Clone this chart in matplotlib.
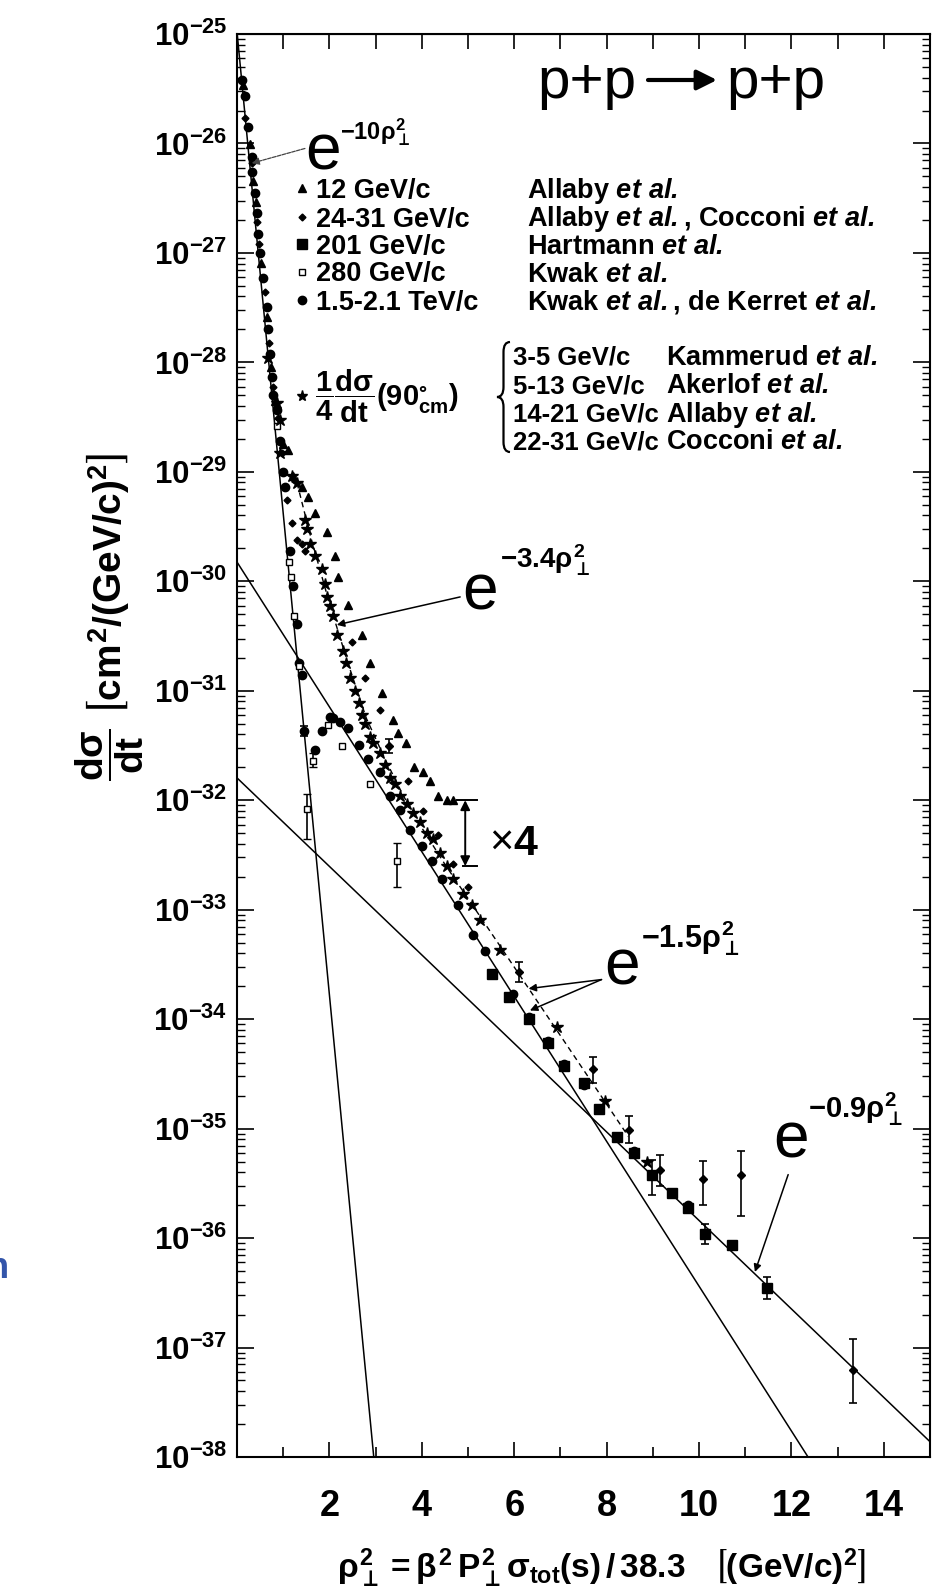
import numpy as np
import matplotlib
matplotlib.use("Agg")
import matplotlib.pyplot as plt
from matplotlib.path import Path
from matplotlib.patches import PathPatch, FancyArrowPatch
from matplotlib.ticker import FixedLocator, LogLocator, NullFormatter

SANS = ['Liberation Sans', 'DejaVu Sans']
plt.rcParams['font.family'] = SANS
plt.rcParams['font.weight'] = 'bold'
plt.rcParams['mathtext.fontset'] = 'custom'
plt.rcParams['mathtext.rm'] = 'Liberation Sans:bold'
plt.rcParams['mathtext.it'] = 'Liberation Sans:bold'
plt.rcParams['mathtext.bf'] = 'Liberation Sans:bold'
plt.rcParams['mathtext.sf'] = 'Liberation Sans:bold:italic'
plt.rcParams['mathtext.fallback'] = 'stixsans'

# ---- data (x = rho_perp^2, y = dsigma/dt) ----
tev_x = [0.10, 0.17, 0.24, 0.32, 0.32, 0.39, 0.43, 0.46, 0.50, 0.57, 0.64, 0.68,
         0.71, 0.75, 0.79, 0.86, 0.93, 1.00, 1.04, 1.15, 1.22, 1.29, 1.34, 1.40,
         1.69, 1.83, 2.01, 2.08, 2.23, 2.41, 2.63, 2.84, 3.10, 3.31, 3.53, 3.74,
         4.00, 4.21, 4.43, 4.79, 5.11, 5.37, 5.98, 6.31, 6.73, 7.08, 7.50, 8.59, 9.77]
tev_y = [3.8e-26, 2.7e-26, 1.4e-26, 7.6e-27, 5.5e-27, 3.5e-27, 2.3e-27, 1.5e-27,
         1.0e-27, 5.9e-28, 3.2e-28, 2.0e-28, 1.2e-28, 7.4e-29, 5.0e-29, 3.7e-29,
         1.9e-29, 1.0e-29, 7.3e-30, 1.9e-30, 9.0e-31, 4.1e-31, 1.8e-31, 1.4e-31,
         2.9e-32, 4.3e-32, 5.8e-32, 5.6e-32, 5.2e-32, 4.6e-32, 3.2e-32, 2.4e-32,
         1.8e-32, 1.1e-32, 8.1e-33, 5.4e-33, 3.8e-33, 2.8e-33, 1.9e-33, 1.1e-33,
         5.9e-34, 4.2e-34, 1.7e-34, 1.05e-34, 6.3e-35, 3.9e-35, 2.5e-35, 6.3e-36, 2.0e-36]
tev_err_x = [1.44]
tev_err_y = [4.3e-32]
tev_err_lo = [3.9e-32]
tev_err_hi = [4.8e-32]

tri_x = [0.14, 0.28, 0.35, 0.41, 0.53, 0.66, 0.73, 0.82, 1.00, 1.11, 1.22, 1.40,
         1.54, 1.69, 1.94, 2.12, 2.19, 2.41, 2.70, 2.88, 3.13, 3.38, 3.49, 3.66,
         3.83, 4.03, 4.18, 4.36, 4.54, 4.67]
tri_y = [3.4e-26, 9.8e-27, 4.5e-27, 2.9e-27, 8.1e-28, 2.6e-28, 9.1e-29, 4.4e-29,
         1.8e-29, 1.6e-29, 9.1e-30, 7.3e-30, 5.9e-30, 4.2e-30, 2.8e-30, 1.7e-30,
         1.1e-30, 6.1e-31, 3.2e-31, 1.8e-31, 9.5e-32, 5.4e-32, 4.1e-32, 3.3e-32,
         2.0e-32, 1.8e-32, 1.5e-32, 1.1e-32, 1.0e-32, 1.0e-32]

dia_x = [0.17, 0.32, 0.44, 0.48, 0.61, 0.70, 0.79, 0.89, 0.97, 1.08, 1.18, 1.29,
         1.40, 1.47, 2.48, 2.77, 3.10, 3.71, 4.03, 4.36, 4.68, 5.01]
dia_y = [1.7e-26, 6.6e-27, 1.9e-27, 1.2e-27, 4.4e-28, 1.5e-28, 6.0e-29, 3.1e-29,
         1.5e-29, 5.5e-30, 3.4e-30, 2.4e-30, 2.2e-30, 1.9e-30, 2.8e-31, 1.3e-31,
         6.7e-32, 1.5e-32, 7.9e-33, 4.8e-33, 2.6e-33, 1.6e-33]
dia_err_x = [3.30, 6.11, 7.71, 8.49, 9.16, 10.09, 10.91, 13.34]
dia_err_y = [3.1e-32, 2.7e-34, 3.5e-35, 9.8e-36, 4.2e-36, 3.5e-36, 3.8e-36, 6.2e-38]
dia_err_lo = [2.7e-32, 2.2e-34, 2.6e-35, 7.4e-36, 3.0e-36, 2.0e-36, 1.6e-36, 3.1e-38]
dia_err_hi = [3.6e-32, 3.3e-34, 4.5e-35, 1.3e-35, 5.8e-36, 5.1e-36, 6.2e-36, 1.2e-37]

sq201_x = [5.53, 5.89, 6.31, 6.73, 7.08, 7.50, 7.84, 8.22, 8.59, 9.41, 9.77, 10.71]
sq201_y = [2.6e-34, 1.6e-34, 1.0e-34, 6.0e-35, 3.7e-35, 2.6e-35, 1.5e-35, 8.3e-36,
           6.0e-36, 2.6e-36, 1.9e-36, 8.7e-37]
sq201_err_x = [8.99, 10.13, 11.48]
sq201_err_y = [3.8e-36, 1.1e-36, 3.5e-37]
sq201_err_lo = [2.5e-36, 8.9e-37, 2.8e-37]
sq201_err_hi = [5.2e-36, 1.35e-36, 4.4e-37]

sq280_x = [0.86, 1.13, 1.17, 1.23, 1.35, 1.98, 2.27, 2.88]
sq280_y = [2.6e-29, 1.5e-30, 1.1e-30, 4.8e-31, 1.7e-31, 4.9e-32, 3.1e-32, 1.4e-32]
sq280_err_x = [1.52, 1.65, 3.46]
sq280_err_y = [8.3e-33, 2.3e-32, 2.8e-33]
sq280_err_lo = [4.4e-33, 2.0e-32, 1.6e-33]
sq280_err_hi = [1.15e-32, 2.7e-32, 4.1e-33]

star_x = [0.68, 0.86, 0.93, 0.93, 1.18, 1.29, 1.47, 1.51, 1.58, 1.69, 1.83, 1.90,
          1.94, 2.01, 2.08, 2.16, 2.30, 2.37, 2.45, 2.55, 2.63, 2.70, 2.77, 2.88,
          2.95, 3.10, 3.20, 3.31, 3.42, 3.53, 3.67, 3.82, 3.96, 4.11, 4.25, 4.39,
          4.54, 4.68, 4.90, 5.08, 5.26, 5.69, 6.92, 7.97, 8.87]
star_y = [1.1e-28, 4.3e-29, 3.0e-29, 1.5e-29, 9.1e-30, 7.9e-30, 3.6e-30, 3.0e-30,
          2.2e-30, 1.7e-30, 1.3e-30, 9.5e-31, 7.2e-31, 5.9e-31, 4.8e-31, 3.2e-31,
          2.3e-31, 1.8e-31, 1.3e-31, 1.0e-31, 7.8e-32, 6.0e-32, 5.0e-32, 3.8e-32,
          3.3e-32, 2.7e-32, 2.1e-32, 1.6e-32, 1.4e-32, 1.1e-32, 9.3e-33, 7.6e-33,
          6.3e-33, 5.0e-33, 4.4e-33, 3.3e-33, 2.5e-33, 1.9e-33, 1.4e-33, 1.1e-33,
          8.1e-34, 4.3e-34, 8.5e-35, 1.8e-35, 5.0e-36]

# dashed curve drawn through the 90 degree points
dash_x = [1.30, 1.60, 2.00, 2.40, 2.80, 3.20, 3.60, 4.00, 4.50, 5.26, 8.47]
dash_y = [7.9e-30, 2.5e-30, 6.3e-31, 1.8e-31, 5.6e-32, 2.4e-32, 1.1e-32, 5.6e-33,
          2.6e-33, 8.7e-34, 8.5e-36]

# straight exponential lines (end points)
fit10_x, fit10_y = [0.0, 2.96], [1.05e-25, 1.0e-38]
fit15_x, fit15_y = [0.0, 12.36], [1.5e-30, 1.0e-38]
fit09_x, fit09_y = [0.0, 15.0], [1.6e-32, 1.38e-38]

# factor-4 bracket
x4_x, x4_top, x4_bot = 4.94, 1.0e-32, 2.5e-33

ytick_exp = list(range(25, 39))
xtick_major = [2, 4, 6, 8, 10, 12, 14]
xtick_minor = [1, 3, 5, 7, 9, 11, 13]

energies1 = ['12 GeV/c', '24-31 GeV/c', '201 GeV/c', '280 GeV/c', '1.5-2.1 TeV/c']
authors1 = [r'Allaby $\mathsf{et\ al.}$',
            r'Allaby $\mathsf{et\ al.}$, Cocconi $\mathsf{et\ al.}$',
            r'Hartmann $\mathsf{et\ al.}$',
            r'Kwak $\mathsf{et\ al.}$',
            r'Kwak $\mathsf{et\ al.}$, de Kerret $\mathsf{et\ al.}$']
energies2 = ['3-5 GeV/c', '5-13 GeV/c', '14-21 GeV/c', '22-31 GeV/c']
authors2 = [r'Kammerud $\mathsf{et\ al.}$', r'Akerlof $\mathsf{et\ al.}$',
            r'Allaby $\mathsf{et\ al.}$', r'Cocconi $\mathsf{et\ al.}$']

# ---- figure ----
W, H = 938, 1594
fig = plt.figure(figsize=(W / 100, H / 100), dpi=100)
AX_L, AX_R, AX_T, AX_B = 237, 930, 34, 1457
ax = fig.add_axes([AX_L / W, 1 - AX_B / H, (AX_R - AX_L) / W, (AX_B - AX_T) / H])


def fp(xp, yp):
    return xp / W, 1 - yp / H


def ap(xp, yp):
    return (xp - AX_L) / (AX_R - AX_L), (AX_B - yp) / (AX_B - AX_T)


def ftxt(xp, yp, s, **kw):
    kw.setdefault('va', 'baseline')
    kw.setdefault('ha', 'left')
    x, y = fp(xp, yp)
    return fig.text(x, y, s, **kw)


ax.set_yscale('log')
ax.set_xlim(0, 15)
ax.set_ylim(1e-38, 1e-25)

K = 'black'
ax.plot(fit10_x, fit10_y, color=K, lw=1.1)
ax.plot(fit15_x, fit15_y, color=K, lw=1.1)
ax.plot(fit09_x, fit09_y, color=K, lw=1.1)
ax.plot(dash_x, dash_y, color=K, lw=1.0, ls=(0, (4, 3)))

ax.plot(tri_x, tri_y, '^', color=K, ms=5.5, ls='none')
ax.plot(dia_x, dia_y, 'D', color=K, ms=3.5, ls='none')
ax.plot(tev_x, tev_y, 'o', color=K, ms=6, ls='none')
ax.plot(sq201_x, sq201_y, 's', color=K, ms=7, ls='none')
ax.plot(sq280_x, sq280_y, 's', mfc='white', mec=K, mew=1.0, ms=4.5, ls='none')
ax.plot(star_x, star_y, '*', color=K, ms=9, ls='none')


def errs(x, y, lo, hi, **kw):
    y = np.array(y)
    yerr = [y - np.array(lo), np.array(hi) - y]
    ax.errorbar(x, y, yerr=yerr, ls='none', ecolor=K, elinewidth=1.2,
                capsize=3, capthick=1.2, color=K, **kw)


errs(tev_err_x, tev_err_y, tev_err_lo, tev_err_hi, fmt='o', ms=6)
errs(dia_err_x, dia_err_y, dia_err_lo, dia_err_hi, fmt='D', ms=4)
errs(sq201_err_x, sq201_err_y, sq201_err_lo, sq201_err_hi, fmt='s', ms=7)
errs(sq280_err_x, sq280_err_y, sq280_err_lo, sq280_err_hi, fmt='s', ms=4.5,
     mfc='white', mec=K, mew=1.0)

# x4 bracket
ax.annotate('', xy=(x4_x, x4_top), xytext=(x4_x, x4_bot),
            arrowprops=dict(arrowstyle='<|-|>', color=K, lw=1.4, mutation_scale=14,
                            shrinkA=0, shrinkB=0))
ax.plot([x4_x - 0.18, x4_x + 0.25], [x4_top, x4_top], color=K, lw=1.4)
ax.plot([x4_x - 0.05, x4_x + 0.25], [x4_bot, x4_bot], color=K, lw=1.4)

# ---- axes / ticks ----
for s in ax.spines.values():
    s.set_linewidth(1.5)
ax.set_yticks([10.0 ** -k for k in ytick_exp])
ax.set_yticklabels([r'$10^{-%d}$' % k for k in ytick_exp])
ax.yaxis.set_minor_locator(LogLocator(base=10, subs=np.arange(2, 10), numticks=200))
ax.yaxis.set_minor_formatter(NullFormatter())
ax.tick_params(axis='y', which='major', direction='in', length=12, width=1.2,
               left=True, right=True, labelsize=22.5, pad=7)
ax.tick_params(axis='y', which='minor', direction='in', length=6, width=1.0,
               left=True, right=True)
ax.xaxis.set_major_locator(FixedLocator(xtick_major))
ax.xaxis.set_minor_locator(FixedLocator(xtick_minor))
ax.set_xticklabels([str(v) for v in xtick_major])
ax.tick_params(axis='x', which='major', direction='in', length=11, width=1.2,
               labelsize=26, pad=23)
ax.tick_params(axis='x', which='minor', direction='in', length=7, width=1.2)
top = ax.secondary_xaxis('top')
top.set_xticks(xtick_minor + xtick_major)
top.set_xticklabels([])
top.tick_params(direction='in', length=11, width=1.2)

# ---- labels ----
ftxt(601, 1568, r'$\rho_{\bot}^{2} = \beta^{2}\,P_{\bot}^{2}\sigma_{tot}(s)\,/\,38.3\ \ \ \left[(GeV/c)^{2}\right]$',
     fontsize=24, ha='center', va='center')
ftxt(110, 617, r'$\dfrac{d\sigma}{dt}\ \left[cm^{2}/(GeV/c)^{2}\right]$',
     fontsize=28, ha='center', va='center', rotation=90)

E_KW = dict(family=SANS, weight='normal', fontsize=46)
ftxt(305, 169, 'e', **E_KW)
ftxt(340, 139, r'$-10\rho_{\bot}^{2}$', fontsize=17)
ftxt(462, 610, 'e', **E_KW)
ftxt(500, 569, r'$-3.4\rho_{\bot}^{2}$', fontsize=20)
ftxt(604, 985, 'e', **E_KW)
ftxt(641, 947, r'$-1.5\rho_{\bot}^{2}$', fontsize=22)
ftxt(773, 1158, 'e', **E_KW)
ftxt(808, 1118, r'$-0.9\rho_{\bot}^{2}$', fontsize=21)

# p + p -> p + p
PP_KW = dict(family=SANS, weight='normal', fontsize=42)
ftxt(537, 98, 'p+p', **PP_KW)
ftxt(726, 98, 'p+p', **PP_KW)
fig.patches.append(FancyArrowPatch(
    fp(648, 80), fp(717, 80), transform=fig.transFigure, arrowstyle='-|>',
    mutation_scale=30, lw=3.0, color=K, shrinkA=0, shrinkB=0))

ftxt(489, 855, '\u00d7', family=SANS, weight='normal', fontsize=30)
ftxt(513, 855, '4', fontsize=31)

ARW = dict(arrowstyle='-|>', color=K, lw=1.1, mutation_scale=11, shrinkA=0, shrinkB=0)
ax.annotate('', xy=(0.32, 6.6e-27), xytext=(1.47, 9.0e-27),
            arrowprops=dict(ARW, color='#444444', lw=0.9, ls=(0, (3, 1))))
ax.annotate('', xy=(2.16, 4.0e-31), xytext=(4.83, 7.2e-31), arrowprops=ARW)
ax.annotate('', xy=(6.31, 1.9e-34), xytext=(7.89, 2.3e-34), arrowprops=ARW)
ax.annotate('', xy=(6.34, 1.2e-34), xytext=(7.89, 2.3e-34), arrowprops=ARW)
ax.annotate('', xy=(11.21, 4.9e-37), xytext=(11.93, 3.8e-36), arrowprops=ARW)

# ---- legend ----
LEG = 19.5
rows1 = [188, 216.5, 244, 271.5, 300]
marks1 = [dict(marker='^', ms=5.5, color=K), dict(marker='D', ms=3.5, color=K),
          dict(marker='s', ms=7, color=K),
          dict(marker='s', ms=4.5, mfc='white', mec=K, mew=1.0),
          dict(marker='o', ms=6, color=K)]
for yr, en, au, mk in zip(rows1, energies1, authors1, marks1):
    ax.plot(*[[v] for v in ap(302, yr)], transform=ax.transAxes, ls='none',
            clip_on=False, **mk)
    ftxt(316, yr + 10, en, fontsize=LEG)
    ftxt(527, yr + 10, au, fontsize=LEG)

rows2 = [354.7, 383, 411.6, 439]
for yr, en, au in zip(rows2, energies2, authors2):
    ftxt(513, yr + 10, en, fontsize=18.5)
    ftxt(666, yr + 10, au, fontsize=LEG)
ax.plot(*[[v] for v in ap(302, 396)], transform=ax.transAxes, ls='none',
        marker='*', ms=8, color=K, clip_on=False)
ftxt(315, 396, r'$\dfrac{1}{4}\dfrac{d\sigma}{dt}(90^{\circ}_{cm})$', fontsize=21, va='center')

# curly brace
bx0, bx1, bt, bb = 497, 510, 342, 452
bm = (bt + bb) / 2
xm = (bx0 + bx1) / 2
pts = [(bx1, bt), (xm, bt), (xm, bt + 10), (xm, bm - 10), (xm, bm), (bx0, bm),
       (xm, bm), (xm, bm + 10), (xm, bb - 10), (xm, bb), (bx1, bb)]
codes = [Path.MOVETO, Path.CURVE3, Path.CURVE3, Path.LINETO, Path.CURVE3, Path.CURVE3,
         Path.CURVE3, Path.CURVE3, Path.LINETO, Path.CURVE3, Path.CURVE3]
brace = Path([fp(*p) for p in pts], codes)
fig.patches.append(PathPatch(brace, transform=fig.transFigure, fill=False, lw=1.6, color=K))

# fragment of neighbouring slide text at the left edge
ftxt(9, 1278, 'n', fontsize=26, color='#3355aa', ha='right', family=SANS)

fig.savefig('out.png', dpi=100)
